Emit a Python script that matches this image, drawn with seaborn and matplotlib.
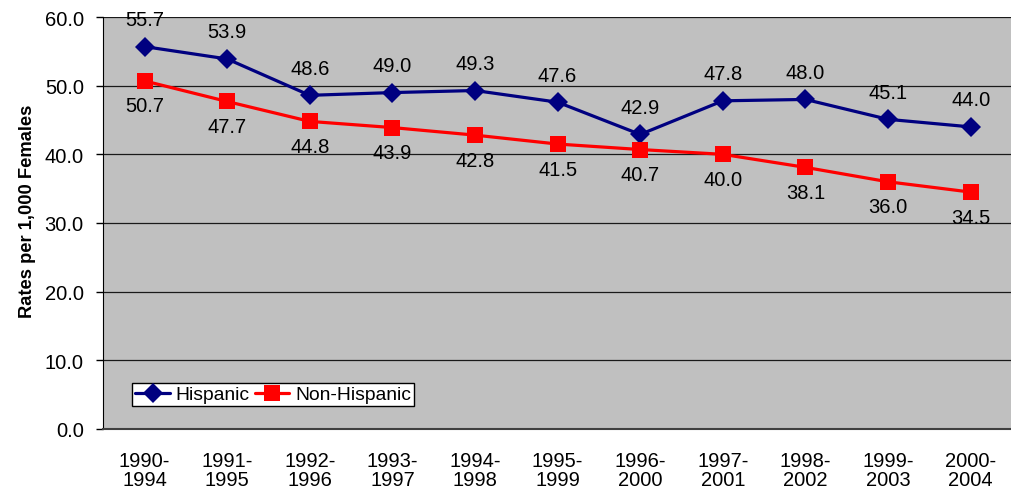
import matplotlib
matplotlib.use("Agg")
import matplotlib.pyplot as plt
import seaborn as sns
import pandas as pd
import numpy as np

periods = ["1990-\n1994", "1991-\n1995", "1992-\n1996", "1993-\n1997", "1994-\n1998",
           "1995-\n1999", "1996-\n2000", "1997-\n2001", "1998-\n2002", "1999-\n2003", "2000-\n2004"]
hispanic = [55.7, 53.9, 48.6, 49.0, 49.3, 47.6, 42.9, 47.8, 48.0, 45.1, 44.0]
non_hispanic = [50.7, 47.7, 44.8, 43.9, 42.8, 41.5, 40.7, 40.0, 38.1, 36.0, 34.5]
yticks = [0, 10, 20, 30, 40, 50, 60]

sns.set_style("white")
plt.rcParams['font.family'] = ['Liberation Sans', 'DejaVu Sans']
plt.rcParams['text.color'] = 'black'
plt.rcParams['axes.labelcolor'] = 'black'
plt.rcParams['xtick.color'] = 'black'
plt.rcParams['ytick.color'] = 'black'

x = np.arange(len(periods))
df_h = pd.DataFrame({"x": x, "rate": hispanic, "group": "Hispanic"})
df_n = pd.DataFrame({"x": x, "rate": non_hispanic, "group": "Non-Hispanic"})

fig = plt.figure(figsize=(10.12, 4.89), dpi=100)
ax = fig.add_axes([0.102, 0.121, 0.898, 0.842])
ax.set_facecolor("#C0C0C0")

sns.lineplot(data=df_h, x="x", y="rate", color="#000080", marker="D",
             linewidth=2.3, markersize=10, markeredgewidth=0, label="Hispanic",
             ax=ax, zorder=3)
sns.lineplot(data=df_n, x="x", y="rate", color="#FF0000", marker="s",
             linewidth=2.3, markersize=11, markeredgewidth=0, label="Non-Hispanic",
             ax=ax, zorder=3)

fs = 14.5
for xi, v in zip(x, hispanic):
    ax.annotate(f"{v:.1f}", (xi, v), xytext=(0, 19.5), textcoords="offset points",
                ha="center", va="center", fontsize=fs, color="black")
for xi, v in zip(x, non_hispanic):
    ax.annotate(f"{v:.1f}", (xi, v), xytext=(0, -18), textcoords="offset points",
                ha="center", va="center", fontsize=fs, color="black")

ax.set_xlim(-0.5, len(periods) - 0.5)
ax.set_ylim(0, 60)
ax.set_yticks(yticks)
ax.set_yticklabels([f"{t:.1f}" for t in yticks], fontsize=fs)
ax.yaxis.grid(True, color="#1a1a1a", linewidth=0.9)
ax.set_axisbelow(True)

ax.set_xticks(x)
ax.set_xticklabels(periods, fontsize=fs, linespacing=1.0)
ax.set_xticks(np.arange(-0.5, len(periods)), minor=True)
ax.tick_params(axis="x", which="major", length=0, pad=16)
ax.tick_params(axis="x", which="minor", length=5, width=1, color="black", direction="out")
ax.tick_params(axis="y", length=5, width=1, color="black", direction="out", left=True, pad=9)

for s in ["top", "right"]:
    ax.spines[s].set_visible(False)
ax.spines["left"].set_color("black")
ax.spines["bottom"].set_color("#404040")
ax.spines["bottom"].set_linewidth(1.5)

ax.set_xlabel("")
ax.set_ylabel("Rates per 1,000 Females", fontsize=13.2, fontweight="bold", color="black")
ax.yaxis.set_label_coords(-0.074, 0.53)

leg = ax.legend(loc="lower left", bbox_to_anchor=(0.032, 0.055), ncol=2, fontsize=13.9,
                frameon=True, fancybox=False, edgecolor="black", framealpha=1,
                handlelength=1.8, handletextpad=0.3, columnspacing=0.25,
                borderpad=0.15, borderaxespad=0)
leg.get_frame().set_linewidth(1)
for t in leg.get_texts():
    t.set_color("black")

fig.savefig("out.png", dpi=100)
